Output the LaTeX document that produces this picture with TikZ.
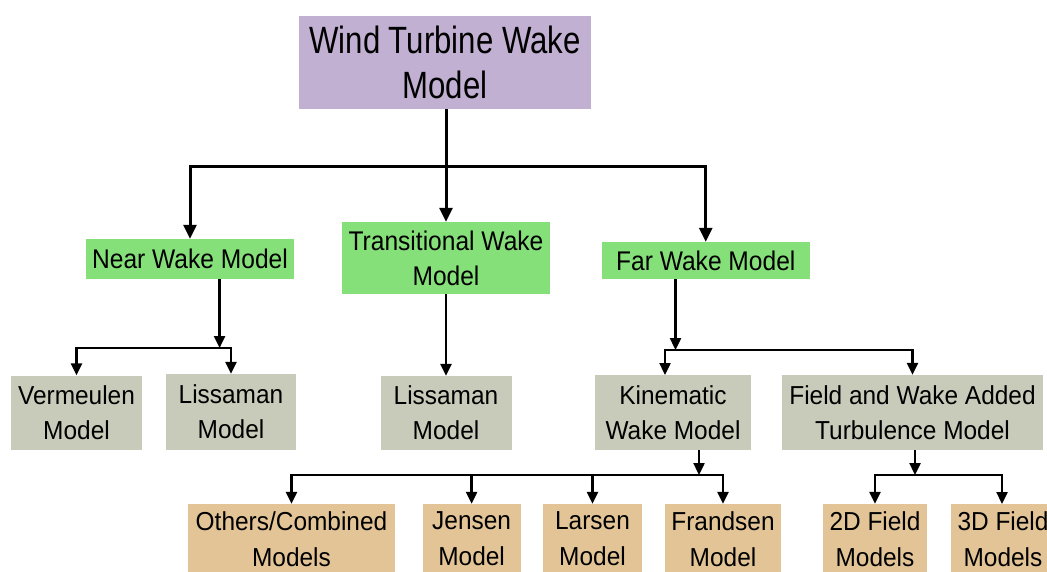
\documentclass[tikz,border=0pt]{standalone}
\usepackage{fontspec}
\setmainfont{Liberation Sans}
\newfontfamily\rootfont[FakeStretch=0.82]{Liberation Sans}
\newfontfamily\greenfont[FakeStretch=0.91]{Liberation Sans}
\newfontfamily\grayfont[FakeStretch=0.94]{Liberation Sans}
\usetikzlibrary{arrows.meta}
\definecolor{rootcol}{RGB}{193,176,210}
\definecolor{greencol}{RGB}{134,224,122}
\definecolor{graycol}{RGB}{201,203,186}
\definecolor{tancol}{RGB}{226,196,150}
\begin{document}
\begin{tikzpicture}[x=1pt,y=-1pt,
  box/.style={inner sep=0pt, align=center, text=black, anchor=center},
  rootbox/.style={box, fill=rootcol, font=\rootfont\fontsize{38}{45}\selectfont},
  greenbox/.style={box, fill=greencol, font=\greenfont\fontsize{27}{35}\selectfont},
  graybox/.style={box, fill=graycol, font=\grayfont\fontsize{26}{35}\selectfont},
  tanbox/.style={box, fill=tancol, font=\grayfont\fontsize{26}{36}\selectfont},
  lineA/.style={line width=3pt},
  arrA/.style={line width=3pt, -{Triangle[length=14pt,width=13pt]}},
  arrB/.style={line width=2.4pt, -{Triangle[length=12pt,width=11pt]}}
]
\useasboundingbox (0,0) rectangle (1047,572);
\clip (0,0) rectangle (1047,572);
\fill[white] (0,0) rectangle (1047,572);

% nodes
\node[rootbox, minimum width=292pt, minimum height=93pt] (root) at (445,62.5) {Wind Turbine Wake\\Model};

\node[greenbox, minimum width=208pt, minimum height=40pt] (near) at (190,259) {Near Wake Model};
\node[greenbox, minimum width=208.5pt, minimum height=72pt] (trans) at (446,258) {Transitional Wake\\Model};
\node[greenbox, minimum width=207.5pt, minimum height=37pt] (far) at (705.75,260.5) {Far Wake Model};

\node[graybox, minimum width=131pt, minimum height=74pt] (verm) at (76.5,412.5) {Vermeulen\\Model};
\node[graybox, minimum width=130pt, minimum height=76pt] (liss1) at (231,412) {Lissaman\\Model};
\node[graybox, minimum width=131pt, minimum height=74pt] (liss2) at (446,413) {Lissaman\\Model};
\node[graybox, minimum width=156pt, minimum height=75pt] (kin) at (673,412.5) {Kinematic\\Wake Model};
\node[graybox, minimum width=261pt, minimum height=75pt] (field) at (912.5,412.5) {Field and Wake Added\\Turbulence Model};

\node[tanbox, minimum width=207pt, minimum height=70pt] (others) at (291.5,539) {Others/Combined\\Models};
\node[tanbox, minimum width=98pt, minimum height=70pt] (jensen) at (471.6,539) {Jensen\\Model};
\node[tanbox, minimum width=99pt, minimum height=70pt] (larsen) at (592.5,539) {Larsen\\Model};
\node[tanbox, minimum width=116pt, minimum height=70pt] (frandsen) at (723,539) {Frandsen\\Model};
\node[tanbox, minimum width=104pt, minimum height=70pt] (twod) at (875,539) {2D Field\\Models};
\node[tanbox, minimum width=104pt, minimum height=70pt] (threed) at (1003,539) {3D Field\\Models};

% junctions
\coordinate (j1) at (446,167);
\coordinate (j2) at (219.6,348);
\coordinate (j3) at (675.5,350);
\coordinate (j4) at (699,475);
\coordinate (j5) at (915,475);
\coordinate (kintop) at (665,375);
\coordinate (threetop) at (1002,504);

% connectors
\draw[lineA] (root.south -| j1) -- (j1);
\draw[arrA] (j1) -| (near.north);
\draw[arrA] (j1) -| (far.north);
\draw[arrA] (j1) -- (trans.north);

\draw[arrB] (near.south -| j2) -- (j2);
\draw[arrB] (j2) -| (verm.north);
\draw[arrB] (j2) -| (liss1.north);

\draw[arrB] (trans.south) -- (liss2.north);

\draw[arrB] (far.south -| j3) -- (j3);
\draw[arrB] (j3) -| (kintop);
\draw[arrB] (j3) -| (field.north);

\draw[arrB] (kin.south -| j4) -- (j4);
\draw[arrB] (j4) -| (others.north);
\draw[arrB] (j4) -| (jensen.north);
\draw[arrB] (j4) -| (larsen.north);
\draw[arrB] (j4) -| (frandsen.north);

\draw[arrB] (field.south -| j5) -- (j5);
\draw[arrB] (j5) -| (twod.north);
\draw[arrB] (j5) -| (threetop);
\end{tikzpicture}
\end{document}
